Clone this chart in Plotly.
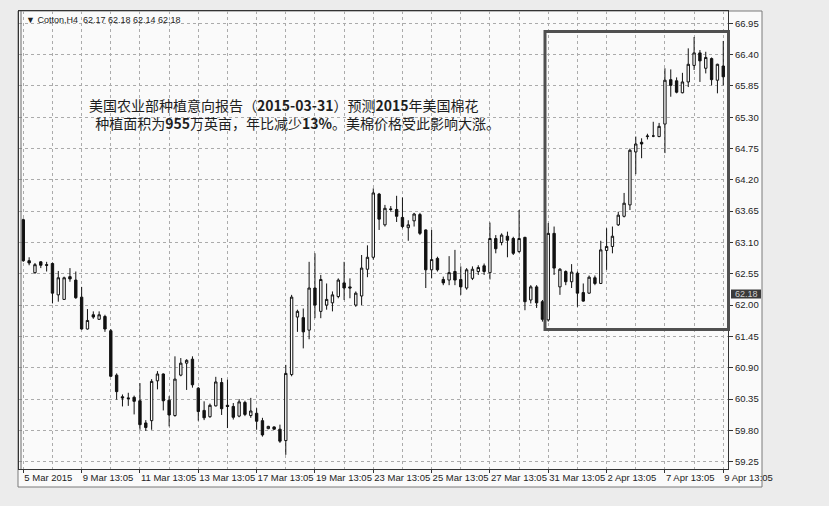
import plotly.graph_objects as go

# ---------------- data ----------------
opens = [63.50, 62.78, 62.57, 62.76, 62.71, 62.73, 62.18, 62.10, 62.50, 62.44,
         62.14, 61.58, 61.83, 61.75, 61.80, 61.55, 60.77, 60.39, 60.37, 60.38,
         60.32, 59.93, 59.97, 60.67, 60.79, 60.33, 60.06, 60.77, 60.98, 61.05,
         60.54, 60.15, 60.04, 60.23, 60.64, 60.24, 60.22, 60.05, 60.29, 60.06,
         60.10, 59.97, 59.83, 59.86, 59.82, 59.62, 60.78, 61.79, 61.78, 61.56,
         62.30, 61.89, 62.00, 62.04, 62.15, 62.39, 62.32, 62.00, 62.16, 62.63,
         62.84, 63.95, 63.41, 63.69, 63.68, 63.54, 63.36, 63.48, 63.59, 63.32,
         62.62, 62.82, 62.45, 62.44, 62.59, 62.45, 62.30, 62.47, 62.59, 62.69,
         62.57, 63.17, 63.10, 63.21, 63.17, 62.94, 63.19, 62.09, 62.32, 62.06,
         61.74, 63.26, 62.32, 62.59, 62.41, 62.56, 62.22, 62.21, 62.48, 62.38,
         62.96, 63.03, 63.41, 63.56, 63.76, 64.69, 64.86, 64.96, 64.97, 64.96,
         65.18, 65.96, 65.94, 65.73, 65.92, 66.21, 66.43, 66.16, 66.33, 65.95,
         66.20]
highs = [63.52, 62.84, 62.74, 62.77, 62.76, 62.75, 62.60, 62.50, 62.65, 62.59,
         62.32, 61.93, 61.89, 61.89, 61.83, 61.58, 60.80, 60.43, 60.46, 60.41,
         60.63, 59.98, 60.70, 60.84, 60.80, 60.40, 61.10, 61.07, 61.05, 61.10,
         60.56, 60.31, 60.27, 60.74, 60.72, 60.69, 60.28, 60.35, 60.32, 60.37,
         60.19, 60.02, 59.88, 59.87, 59.90, 60.95, 62.18, 61.92, 61.94, 62.76,
         62.91, 62.53, 62.38, 62.24, 62.47, 62.76, 62.47, 62.24, 62.88, 63.05,
         64.05, 63.97, 63.76, 63.74, 63.92, 63.89, 63.49, 63.62, 63.62, 63.33,
         63.32, 62.85, 62.50, 62.86, 62.97, 62.68, 62.65, 62.68, 62.70, 62.73,
         63.45, 63.23, 63.26, 63.29, 63.20, 63.67, 63.20, 62.35, 62.35, 62.09,
         63.44, 63.38, 62.65, 62.61, 62.72, 62.59, 62.38, 62.52, 62.52, 63.13,
         63.35, 63.38, 63.64, 63.97, 64.75, 64.96, 64.93, 65.01, 65.22, 65.20,
         66.16, 66.14, 66.00, 66.08, 66.51, 66.71, 66.48, 66.45, 66.35, 66.24,
         66.64]
lows = [62.76, 62.70, 62.55, 62.65, 62.59, 62.03, 62.06, 62.09, 62.41, 62.11,
        61.57, 61.57, 61.76, 61.74, 61.53, 60.74, 60.34, 60.22, 60.23, 60.08,
        59.81, 59.79, 59.81, 60.52, 60.15, 59.87, 60.04, 60.75, 60.51, 60.55,
        59.97, 59.98, 60.02, 60.22, 60.07, 59.84, 59.99, 60.03, 60.05, 60.02,
        59.81, 59.69, 59.82, 59.81, 59.58, 59.37, 60.75, 61.53, 61.24, 61.40,
        61.77, 61.77, 61.92, 61.89, 62.12, 62.09, 62.12, 61.97, 62.00, 62.49,
        62.80, 63.32, 63.38, 63.64, 63.46, 63.35, 63.13, 63.38, 63.23, 62.30,
        62.47, 62.59, 62.35, 62.35, 62.35, 62.18, 62.27, 62.44, 62.53, 62.53,
        62.45, 62.91, 63.05, 62.84, 62.88, 62.92, 61.91, 62.03, 61.95, 61.71,
        61.71, 62.53, 62.18, 62.35, 62.30, 61.97, 62.06, 62.20, 62.35, 62.37,
        62.62, 62.91, 63.39, 63.54, 63.67, 64.30, 64.58, 64.91, 64.95, 64.95,
        64.67, 65.66, 65.72, 65.72, 65.83, 66.13, 65.92, 66.07, 65.86, 65.72,
        65.86]
closes = [62.78, 62.74, 62.71, 62.70, 62.70, 62.21, 62.48, 62.48, 62.46, 62.13,
          61.58, 61.73, 61.79, 61.83, 61.58, 60.75, 60.48, 60.37, 60.36, 60.31,
          59.90, 59.85, 60.66, 60.79, 60.32, 60.07, 60.70, 60.98, 61.03, 60.60,
          60.13, 60.02, 60.24, 60.65, 60.18, 60.22, 60.03, 60.30, 60.08, 60.14,
          59.96, 59.72, 59.87, 59.82, 59.61, 60.80, 62.14, 61.89, 61.53, 62.30,
          62.00, 62.45, 62.10, 62.18, 62.44, 62.30, 62.30, 62.21, 62.65, 62.84,
          63.97, 63.51, 63.70, 63.68, 63.56, 63.38, 63.41, 63.60, 63.26, 62.62,
          62.80, 62.62, 62.39, 62.57, 62.44, 62.32, 62.62, 62.63, 62.66, 62.59,
          63.17, 62.99, 63.23, 63.14, 62.91, 63.17, 62.06, 62.32, 62.04, 61.75,
          63.26, 62.65, 62.63, 62.41, 62.58, 62.21, 62.07, 62.49, 62.38, 62.97,
          63.03, 63.21, 63.58, 63.79, 64.72, 64.83, 64.83, 64.97, 64.97, 65.14,
          65.95, 65.86, 65.74, 65.92, 66.23, 66.43, 66.29, 66.35, 65.96, 66.23,
          66.01]
bar_index = list(range(len(opens)))

time_tick_bars = [0, 10, 20, 30, 40, 50, 60, 70, 80, 90, 100, 110, 120]
time_tick_labels = ["5 Mar 2015", "9 Mar 13:05", "11 Mar 13:05", "13 Mar 13:05",
                    "17 Mar 13:05", "19 Mar 13:05", "23 Mar 13:05", "25 Mar 13:05",
                    "27 Mar 13:05", "31 Mar 13:05", "2 Apr 13:05", "7 Apr 13:05",
                    "9 Apr 13:05"]
price_ticks = [59.25, 59.80, 60.35, 60.90, 61.45, 62.00, 62.55, 63.10,
               63.65, 64.20, 64.75, 65.30, 65.85, 66.40, 66.95]
bid_price = 62.18
header_text = "▼ Cotton,H4  62.17 62.18 62.14 62.18"
note_lines = ["美国农业部种植意向报告（<b>2015-03-31</b>）预测<b>2015</b>年美国棉花",
              "&nbsp;&nbsp;种植面积为<b>955</b>万英亩，年比减少<b>13%</b>。美棉价格受此影响大涨。"]

# ---------------- layout geometry (pixels) ----------------
W, H = 829, 506
L, R, T, B = 19, 728, 11, 469
X0_PX, BAR_PX = 23.3, 5.833          # bar 0 centre and bar spacing
P0, P0_PX, PPX = 66.95, 23.3, 56.93   # price at pixel, pixels per 1.00

def xp(px):
    return (px - L) / (R - L)

def yp(py):
    return (B - py) / (B - T)

x_range = [(L - X0_PX) / BAR_PX, (R - X0_PX) / BAR_PX]
y_range = [P0 - (B - P0_PX) / PPX, P0 + (P0_PX - T) / PPX]

GRID = "#ababab"
AX = "#333333"
PAGE = "#ececec"
FONT = "Liberation Sans, DejaVu Sans, Arial, sans-serif"

fig = go.Figure()
fig.add_trace(go.Candlestick(
    x=bar_index, open=opens, high=highs, low=lows, close=closes,
    increasing=dict(line=dict(color="#111111", width=1), fillcolor="#ffffff"),
    decreasing=dict(line=dict(color="#111111", width=1), fillcolor="#111111"),
    whiskerwidth=0, showlegend=False, hoverinfo="skip",
))

# bid line
fig.add_hline(y=bid_price, line=dict(color="#9a9a9a", width=1), layer="below")

shapes = [
    # chart window
    dict(type="rect", xref="paper", yref="paper", x0=xp(18), x1=xp(762),
         y0=yp(487), y1=yp(11), fillcolor="#fafafa",
         line=dict(color="#7a7a7a", width=1), layer="below"),
    # highlight box
    dict(type="rect", xref="paper", yref="paper", x0=xp(545), x1=xp(728.5),
         y0=yp(329.5), y1=yp(31.5), fillcolor="rgba(0,0,0,0)",
         line=dict(color="#505050", width=3), layer="above"),
    # bid price tag
    dict(type="rect", xref="paper", yref="paper", x0=xp(731), x1=xp(761),
         y0=yp(298.5), y1=yp(289.5), fillcolor="#3a3a3a",
         line=dict(width=0), layer="above"),
    # double left frame line
    dict(type="line", xref="paper", yref="paper", x0=xp(21), x1=xp(21),
         y0=0, y1=1, line=dict(color="#666666", width=1)),
]
for s in shapes:
    fig.add_shape(**s)

annotations = [
    dict(text=header_text, x=xp(24), y=yp(20), xanchor="left", yanchor="middle",
         font=dict(size=9, color="#222222", family=FONT)),
    dict(text="<br>".join(note_lines), x=xp(87), y=yp(93), xanchor="left",
         yanchor="top", align="left",
         font=dict(size=14, color="#1e1e1e", family="Noto Sans CJK SC")),
    dict(text=f"{bid_price:.2f}", x=xp(746), y=yp(294), xanchor="center",
         yanchor="middle", font=dict(size=9, color="#cfcfcf", family=FONT)),
]
for a in annotations:
    fig.add_annotation(xref="paper", yref="paper", showarrow=False, **a)

fig.update_layout(
    width=W, height=H,
    margin=dict(l=L, r=W - R, t=T, b=H - B, pad=0, autoexpand=False),
    paper_bgcolor=PAGE, plot_bgcolor="#fafafa",
    boxgap=0.42,
    font=dict(family=FONT, size=9, color="#222222"),
    showlegend=False,
    xaxis=dict(
        range=x_range, rangeslider=dict(visible=False), automargin=False,
        tickmode="array", tickvals=time_tick_bars, ticktext=time_tick_labels,
        tickangle=0,
        ticks="outside", ticklen=3, tickcolor=AX, ticklabelposition="outside right",
        tickfont=dict(size=9.5, color="#222222", family=FONT),
        showgrid=True, gridcolor=GRID, griddash="dot", gridwidth=1,
        minor=dict(tickvals=[b + 5 for b in time_tick_bars[:-1]], showgrid=True,
                   gridcolor=GRID, griddash="dot", gridwidth=1, ticks=""),
        showline=True, linecolor=AX, linewidth=1, mirror=True, zeroline=False,
    ),
    yaxis=dict(
        range=y_range, side="right", automargin=False,
        tickmode="array", tickvals=price_ticks,
        ticktext=[f"{p:.2f}" for p in price_ticks],
        ticks="outside", ticklen=4, tickcolor=AX,
        tickfont=dict(size=9.5, color="#222222", family=FONT),
        showgrid=True, gridcolor=GRID, griddash="dot", gridwidth=1,
        showline=True, linecolor=AX, linewidth=1, mirror=True, zeroline=False,
    ),
)

fig.write_html(
    "out.html",
    config={"displayModeBar": False, "staticPlot": True},
    post_script=f"document.body.style.margin='0px';document.body.style.background='{PAGE}';",
)
